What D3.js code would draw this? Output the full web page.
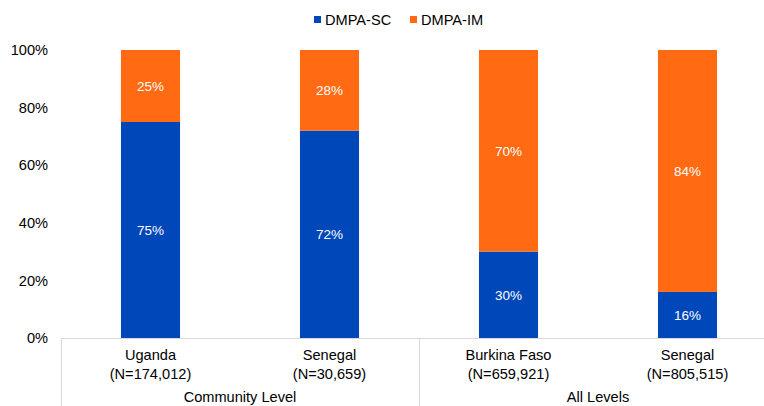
<!DOCTYPE html>
<html>
<head>
<meta charset="utf-8">
<script src="https://cdn.jsdelivr.net/npm/d3@7"></script>
<style>
  body { margin: 0; background: #fff; }
  svg { display: block; font-family: "Liberation Sans", Arial, sans-serif; }
</style>
</head>
<body>
<svg id="chart"></svg>
<script>
'use strict';

// Chart data
var countries = ["Uganda", "Senegal", "Burkina Faso", "Senegal"];
var sample_sizes = ["(N=174,012)", "(N=30,659)", "(N=659,921)", "(N=805,515)"];
var groups = ["Community Level", "All Levels"];
var group_of_bar = [0, 0, 1, 1];
var dmpa_sc = [75, 72, 30, 16];
var dmpa_im = [25, 28, 70, 84];
var series_names = ["DMPA-SC", "DMPA-IM"];
var y_ticks = [0, 20, 40, 60, 80, 100];

var colors = {
    sc: "#0047BA",
    im: "#FF6A13",
    text: "#000",
    axis: "#d9d9d9",
};

var width = 764, height = 406;
var svg = d3.select("#chart").attr("width", width).attr("height", height);

var ids = countries.map((c, i) => i);

var x = d3.scaleBand()
          .domain(ids)
          .range([61, 777])
          .paddingInner(0.67)
          .paddingOuter(0.335);

var y = d3.scaleLinear()
          .domain([0, 100])
          .range([338, 50]);

// Y tick labels, no axis line
var yAxis = svg.append("g")
               .attr("transform", "translate(56,0)")
               .call(d3.axisLeft(y).tickValues(y_ticks).tickSize(0).tickPadding(8)
                       .tickFormat(d => d + "%"));
yAxis.select(".domain").remove();
yAxis.selectAll("text")
     .attr("font-family", "Liberation Sans, Arial, sans-serif")
     .attr("font-size", "14.6px")
     .attr("fill", colors.text);

// Stacked bars
var stack_rows = ids.map(i => ({id: i, sc: dmpa_sc[i], im: dmpa_im[i]}));
var stacked = d3.stack().keys(["sc", "im"])(stack_rows);

var layers = svg.append("g").selectAll("g")
    .data(stacked)
    .join("g")
    .attr("fill", d => colors[d.key]);

layers.selectAll("rect")
    .data(d => d)
    .join("rect")
    .attr("x", d => x(d.data.id))
    .attr("width", x.bandwidth())
    .attr("y", d => y(d[1]))
    .attr("height", d => y(d[0]) - y(d[1]));

layers.selectAll("text")
    .data(d => d.map(v => Object.assign({key: d.key}, v)))
    .join("text")
    .attr("x", d => x(d.data.id) + x.bandwidth() / 2)
    .attr("y", d => (y(d[0]) + y(d[1])) / 2)
    .attr("dy", "0.35em")
    .attr("text-anchor", "middle")
    .attr("font-size", "13.5px")
    .attr("fill", "#fff")
    .text(d => (d[1] - d[0]) + "%");

// X axis line and group separators
var axis_g = svg.append("g").attr("stroke", colors.axis).attr("stroke-width", 1);
var x0 = x.range()[0], x1 = x.range()[1];
axis_g.append("line")
      .attr("x1", x0).attr("x2", x1)
      .attr("y1", y(0) + 0.5).attr("y2", y(0) + 0.5);

var group_edges = groups.map((g, gi) => {
    var members = ids.filter(i => group_of_bar[i] == gi);
    var step = x.step();
    var left = x(members[0]) - (step - x.bandwidth()) / 2;
    var right = x(members[members.length - 1]) + x.bandwidth() + (step - x.bandwidth()) / 2;
    return {name: g, left: left, right: right};
});

var edges = [group_edges[0].left].concat(group_edges.map(g => g.right));
axis_g.selectAll("line.sep")
      .data(edges)
      .join("line")
      .attr("class", "sep")
      .attr("x1", d => Math.round(d) + 0.5).attr("x2", d => Math.round(d) + 0.5)
      .attr("y1", y(0)).attr("y2", height);

// Category labels
var cat = svg.append("g")
             .attr("font-size", "14.6px")
             .attr("fill", colors.text)
             .attr("text-anchor", "middle");

cat.selectAll("text.name")
   .data(ids)
   .join("text")
   .attr("class", "name")
   .attr("x", i => x(i) + x.bandwidth() / 2)
   .attr("y", 360)
   .text(i => countries[i]);

cat.selectAll("text.n")
   .data(ids)
   .join("text")
   .attr("class", "n")
   .attr("x", i => x(i) + x.bandwidth() / 2)
   .attr("y", 379)
   .text(i => sample_sizes[i]);

// group labels sit at the very bottom edge, nudged up so descenders stay visible
cat.selectAll("text.group")
   .data(group_edges)
   .join("text")
   .attr("class", "group")
   .attr("x", g => (g.left + g.right) / 2)
   .attr("y", 401.5)
   .text(g => g.name);

// Legend
var legend_x = [314, 410];
var legend = svg.append("g")
                .selectAll("g")
                .data(series_names)
                .join("g")
                .attr("transform", (d, i) => "translate(" + legend_x[i] + ",14)");

legend.append("rect")
      .attr("width", 7).attr("height", 7)
      .attr("y", 2)
      .attr("fill", (d, i) => i == 0 ? colors.sc : colors.im);

legend.append("text")
      .attr("x", 11)
      .attr("y", 5.5)
      .attr("dy", "0.35em")
      .attr("font-size", "14.6px")
      .attr("fill", colors.text)
      .text(d => d);
</script>
</body>
</html>
